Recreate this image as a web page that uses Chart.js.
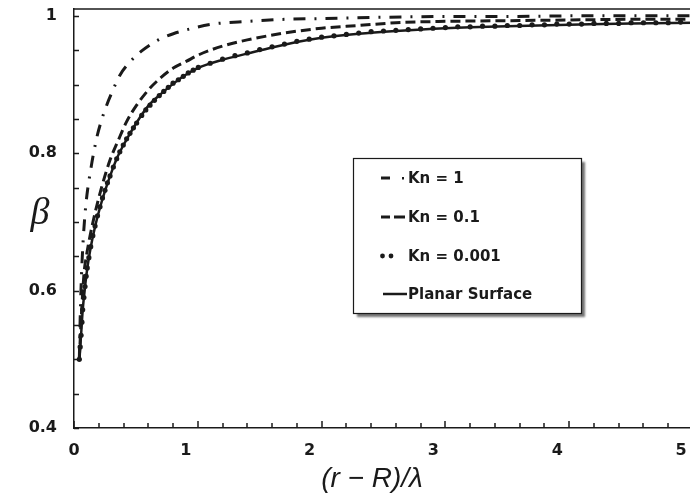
<!DOCTYPE html>
<html>
<head>
<meta charset="utf-8">
<script src="https://cdn.jsdelivr.net/npm/chart.js@4.4.1/dist/chart.umd.min.js"></script>
<style>
  html, body { margin: 0; padding: 0; background: #fff; overflow: hidden; }
</style>
</head>
<body>
<canvas id="beta-chart" width="700" height="496"></canvas>
<script>
// values: x = (r - R)/lambda, y = beta
const kn1X = [0.043, 0.05, 0.06, 0.075, 0.097, 0.135, 0.183, 0.224, 0.264, 0.305, 0.372, 0.452, 0.547,
  0.681, 0.802, 0.937, 1.12, 1.4, 1.7, 2.0, 2.5, 3.0, 3.5, 4.0, 4.5, 5.0];
const kn1Y = [0.500, 0.560, 0.620, 0.676, 0.727, 0.776, 0.822, 0.849, 0.870, 0.888, 0.914, 0.933, 0.949,
  0.965, 0.974, 0.981, 0.988, 0.992, 0.995, 0.996, 0.998, 0.999, 0.999, 1.000, 1.000, 1.000];

const kn01X = [0.043, 0.06, 0.081, 0.1, 0.129, 0.17, 0.224, 0.291, 0.358, 0.425, 0.506, 0.6, 0.695,
  0.802, 0.91, 1.004, 1.2, 1.4, 1.7, 2.0, 2.3, 2.6, 3.0, 3.5, 4.0, 4.5, 5.0];
const kn01Y = [0.500, 0.565, 0.625, 0.650, 0.679, 0.713, 0.751, 0.790, 0.819, 0.846, 0.870, 0.892, 0.909,
  0.924, 0.934, 0.943, 0.956, 0.965, 0.975, 0.982, 0.986, 0.990, 0.992, 0.993, 0.994, 0.995, 0.995];

const kn0001X = [0.043, 0.05, 0.057, 0.064, 0.07, 0.08, 0.089, 0.098, 0.107, 0.12, 0.135, 0.152, 0.17,
  0.19, 0.21, 0.23, 0.25, 0.27, 0.291, 0.318, 0.345, 0.37, 0.398, 0.425, 0.452, 0.48, 0.506, 0.547,
  0.58, 0.614, 0.65, 0.689, 0.725, 0.762, 0.8, 0.843, 0.883, 0.923, 0.963, 1.004,
  1.1, 1.2, 1.3, 1.4, 1.5, 1.6, 1.7, 1.8, 1.9, 2.0, 2.1, 2.2, 2.3, 2.4, 2.5, 2.6, 2.7, 2.8, 2.9, 3.0,
  3.1, 3.2, 3.3, 3.4, 3.5, 3.6, 3.7, 3.8, 3.9, 4.0, 4.1, 4.2, 4.3, 4.4, 4.5, 4.6, 4.7, 4.8, 4.9, 5.0];
const kn0001Y = [0.500, 0.518, 0.535, 0.554, 0.572, 0.590, 0.606, 0.621, 0.633, 0.648, 0.664, 0.680, 0.694,
  0.709, 0.722, 0.735, 0.746, 0.757, 0.767, 0.780, 0.792, 0.802, 0.812, 0.821, 0.829, 0.837, 0.844, 0.855,
  0.863, 0.870, 0.877, 0.884, 0.890, 0.896, 0.902, 0.907, 0.912, 0.917, 0.921, 0.925,
  0.931, 0.937, 0.942, 0.946, 0.951, 0.955, 0.959, 0.963, 0.966, 0.969, 0.971, 0.973, 0.975, 0.977, 0.978, 0.979, 0.980, 0.981, 0.982, 0.983,
  0.984, 0.984, 0.985, 0.985, 0.986, 0.986, 0.987, 0.987, 0.988, 0.988, 0.988, 0.989, 0.989, 0.989, 0.990, 0.990, 0.990, 0.990, 0.991, 0.991];

const planarX = [0.043, 0.057, 0.07, 0.089, 0.107, 0.135, 0.17, 0.21, 0.25, 0.3, 0.35, 0.4, 0.5, 0.6, 0.7,
  0.8, 0.9, 1.0, 1.2, 1.4, 1.6, 1.8, 2.0, 2.3, 2.6, 3.0, 3.5, 4.0, 4.5, 5.0];
const planarY = [0.500, 0.535, 0.571, 0.605, 0.632, 0.663, 0.693, 0.721, 0.745, 0.771, 0.794, 0.812, 0.843,
  0.869, 0.886, 0.901, 0.914, 0.924, 0.936, 0.945, 0.954, 0.962, 0.968, 0.974, 0.978, 0.982, 0.985, 0.987,
  0.989, 0.990];

const seriesLabels = ['Kn = 1', 'Kn = 0.1', 'Kn = 0.001', 'Planar Surface'];
const xMajorTicks = [0, 1, 2, 3, 4, 5];
const xMinorStep = 0.2;
const yTicks = [0.4, 0.45, 0.5, 0.55, 0.6, 0.65, 0.7, 0.75, 0.8, 0.85, 0.9, 0.95, 1];
const yLabelTicks = [0.4, 0.6, 0.8, 1];
const xTitle = '(r \u2212 R)/\u03bb';
const yTitle = '\u03b2';

const INK = '#1a1a1a';
const TICK_FONT = { family: '"DejaVu Sans", Verdana, sans-serif', size: 16, weight: 'bold' };

function pairs(xs, ys) {
  return xs.map((x, i) => ({ x, y: ys[i] }));
}

function noLabelPadding(scale) {
  scale.paddingLeft = 0;
  scale.paddingRight = 0;
  scale.paddingTop = 0;
  scale.paddingBottom = 0;
}

// inward tick marks, top frame line, axis titles and the boxed legend
const framePlugin = {
  id: 'frame',
  afterDraw(chart) {
    const { ctx, chartArea: a, scales } = chart;
    ctx.save();
    ctx.strokeStyle = INK;
    ctx.lineWidth = 1.5;
    ctx.beginPath();
    ctx.moveTo(a.left, a.top);
    ctx.lineTo(a.right + 10, a.top);
    ctx.stroke();

    ctx.lineWidth = 1.3;
    ctx.beginPath();
    scales.y.ticks.forEach(t => {
      const y = Math.round(scales.y.getPixelForValue(t.value)) + 0.5;
      ctx.moveTo(a.left, y);
      ctx.lineTo(a.left + 5, y);
    });
    ctx.stroke();

    const xBase = Math.round(a.bottom);
    ctx.lineWidth = 1.5;
    ctx.beginPath();
    for (let v = 0; v <= 5 + 1e-9; v += xMinorStep) {
      const x = Math.round(scales.x.getPixelForValue(v));
      const major = xMajorTicks.some(m => Math.abs(m - v) < 1e-6);
      ctx.moveTo(x, xBase);
      ctx.lineTo(x, xBase - (major ? 7 : 5));
    }
    ctx.stroke();

    // axis titles
    ctx.fillStyle = INK;
    ctx.textAlign = 'center';
    ctx.textBaseline = 'middle';
    ctx.font = 'italic 28px "Liberation Sans", Arial, sans-serif';
    ctx.fillText(xTitle, 372, 479);
    ctx.font = 'italic 38px "Liberation Serif", "Times New Roman", serif';
    ctx.fillText(yTitle, 40, 214);

    // legend box
    const box = { x: 353, y: 158, w: 228, h: 155 };
    ctx.save();
    ctx.shadowColor = 'rgba(0,0,0,0.55)';
    ctx.shadowOffsetX = 4;
    ctx.shadowOffsetY = 4;
    ctx.shadowBlur = 2;
    ctx.fillStyle = '#fff';
    ctx.fillRect(box.x, box.y, box.w, box.h);
    ctx.restore();
    ctx.lineWidth = 1.2;
    ctx.strokeRect(box.x + 0.5, box.y + 0.5, box.w, box.h);

    const rows = [178, 217, 256, 294];
    ctx.font = 'bold 15px "DejaVu Sans", Verdana, sans-serif';
    ctx.textAlign = 'left';
    chart.data.datasets.forEach((ds, i) => {
      const y = rows[i];
      ctx.save();
      ctx.strokeStyle = INK;
      ctx.fillStyle = INK;
      if (i === 0) {
        ctx.lineWidth = 3;
        ctx.beginPath();
        ctx.moveTo(381, y); ctx.lineTo(390, y);
        ctx.stroke();
        ctx.fillRect(402, y - 1, 2, 2.5);
      } else if (i === 1) {
        ctx.lineWidth = 3;
        ctx.beginPath();
        ctx.moveTo(381, y); ctx.lineTo(390, y);
        ctx.moveTo(394, y); ctx.lineTo(405, y);
        ctx.stroke();
      } else if (i === 2) {
        [382.5, 391].forEach(cx => {
          ctx.beginPath();
          ctx.arc(cx, y, 2.4, 0, Math.PI * 2);
          ctx.fill();
        });
      } else {
        ctx.lineWidth = 2.5;
        ctx.beginPath();
        ctx.moveTo(383, y); ctx.lineTo(407, y);
        ctx.stroke();
      }
      ctx.restore();
      ctx.fillText(ds.label, 408, y + 1);
    });
    ctx.restore();
  }
};

new Chart(document.getElementById('beta-chart'), {
  type: 'line',
  data: {
    datasets: [
      {
        label: seriesLabels[0],
        data: pairs(kn1X, kn1Y),
        borderColor: INK,
        borderWidth: 3,
        borderDash: [12, 9, 2, 9],
        pointRadius: 0,
        cubicInterpolationMode: 'monotone',
      },
      {
        label: seriesLabels[1],
        data: pairs(kn01X, kn01Y),
        borderColor: INK,
        borderWidth: 3,
        borderDash: [10, 5],
        pointRadius: 0,
        cubicInterpolationMode: 'monotone',
      },
      {
        label: seriesLabels[2],
        data: pairs(kn0001X, kn0001Y),
        showLine: false,
        pointRadius: 2.6,
        pointBorderWidth: 0,
        pointBackgroundColor: INK,
        borderColor: INK,
      },
      {
        label: seriesLabels[3],
        data: pairs(planarX, planarY),
        borderColor: INK,
        borderWidth: 2.5,
        pointRadius: 0,
        cubicInterpolationMode: 'monotone',
      },
    ],
  },
  options: {
    responsive: false,
    animation: false,
    layout: { padding: { top: 9, right: 7, left: 0, bottom: 0 } },
    scales: {
      x: {
        type: 'linear',
        min: 0,
        max: 5,
        afterBuildTicks: scale => { scale.ticks = xMajorTicks.map(v => ({ value: v })); },
        afterFit: scale => { scale.height = 68; noLabelPadding(scale); },
        grid: { display: false, drawTicks: false },
        border: { display: true, color: INK, width: 1.5 },
        ticks: {
          autoSkip: false,
          maxRotation: 0,
          padding: 13,
          labelOffset: -12,
          color: INK,
          font: TICK_FONT,
          callback: v => (v === 0 ? '\u2002\u2002\u20020' : String(v)),
        },
      },
      y: {
        min: 0.4,
        max: 1.01,
        afterBuildTicks: scale => { scale.ticks = yTicks.map(v => ({ value: v })); },
        afterFit: scale => { scale.width = 74; noLabelPadding(scale); },
        grid: { display: false, drawTicks: false },
        border: { display: true, color: INK, width: 1.5 },
        ticks: {
          autoSkip: false,
          padding: 17,
          color: INK,
          font: TICK_FONT,
          callback: v => (yLabelTicks.includes(v) ? (v === 1 ? '1' : v.toFixed(1)) : ''),
        },
      },
    },
    plugins: {
      legend: { display: false },
      tooltip: { enabled: false },
    },
  },
  plugins: [framePlugin],
});
</script>
</body>
</html>
